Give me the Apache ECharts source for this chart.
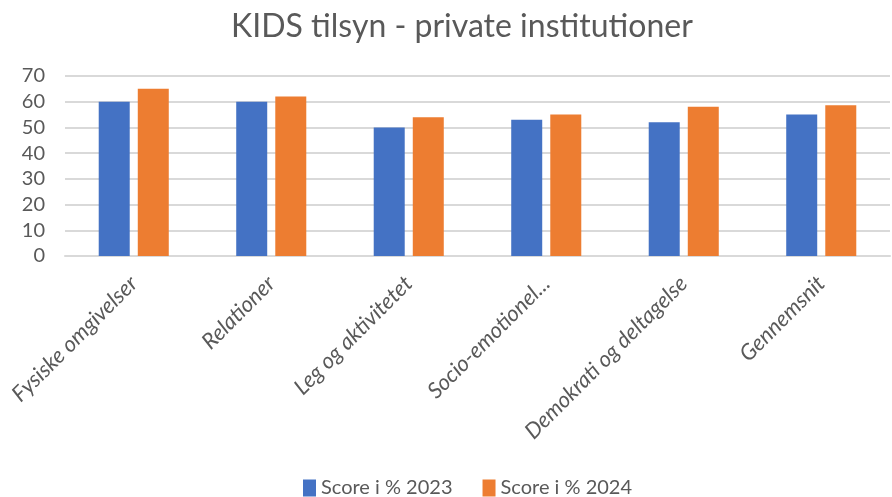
<!DOCTYPE html>
<html>
<head>
<meta charset="utf-8">
<script src="https://cdn.jsdelivr.net/npm/echarts@6/dist/echarts.min.js"></script>
<style>
html,body{margin:0;padding:0;background:#fff}
#main{width:892px;height:497px}
</style>
</head>
<body>
<div id="main"></div>
<script>
var categories = ['Fysiske omgivelser', 'Relationer', 'Leg og aktivitetet', 'Socio-emotionel...', 'Demokrati og deltagelse', 'Gennemsnit'];
var score2023 = [60, 60, 50, 53, 52, 55];
var score2024 = [65, 62, 54, 55, 58, 58.6];
var seriesNames = ['Score i % 2023', 'Score i % 2024'];

var font = 'Lato, "Open Sans", sans-serif';
var myChart = echarts.init(document.getElementById('main'));
myChart.setOption({
    animation: false,
    title: {
        text: 'KIDS tilsyn - private institutioner',
        left: 226,
        top: 6,
        textStyle: {color: '#595959', fontSize: 32, fontWeight: 'normal', fontFamily: font}
    },
    legend: {
        bottom: -6,
        left: 298,
        itemWidth: 13,
        itemHeight: 17,
        itemGap: 30,
        icon: 'rect',
        textStyle: {color: '#595959', fontSize: 20, fontFamily: font},
        data: seriesNames
    },
    grid: {left: 65, right: 2, top: 76, bottom: 241},
    xAxis: {
        type: 'category',
        data: categories,
        axisLine: {lineStyle: {color: '#d9d9d9', width: 2}},
        axisTick: {show: false},
        axisLabel: {
            rotate: 45,
            margin: 24,
            interval: 0,
            color: '#595959',
            fontSize: 22,
            fontStyle: 'italic',
            fontFamily: font
        }
    },
    yAxis: {
        type: 'value',
        min: 0,
        max: 70,
        interval: 10,
        axisLine: {show: false},
        axisTick: {show: false},
        splitLine: {lineStyle: {color: '#d9d9d9', width: 2}},
        axisLabel: {color: '#595959', fontSize: 20, margin: 20, fontFamily: font}
    },
    series: [
        {name: seriesNames[0], type: 'bar', data: score2023, barWidth: 31, barGap: '26%',
         itemStyle: {color: '#4472C4'}},
        {name: seriesNames[1], type: 'bar', data: score2024, barWidth: 31, barGap: '26%',
         itemStyle: {color: '#ED7D31'}}
    ]
});
</script>
</body>
</html>
